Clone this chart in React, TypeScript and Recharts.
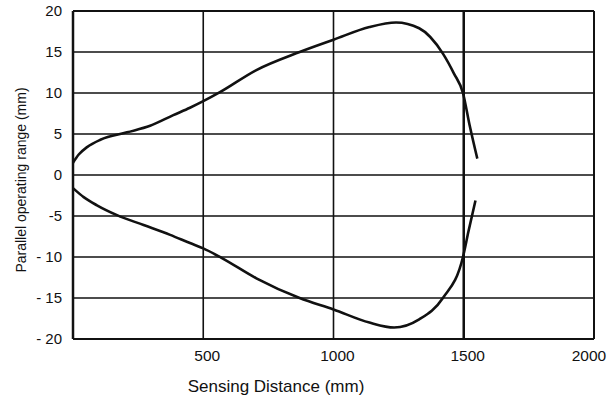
import { LineChart, Line, XAxis, YAxis, CartesianGrid, ReferenceLine, Label } from "recharts"

// sensing distance (mm) vs. parallel operating range (mm), upper and lower edges of the beam
const upperDist = [0, 22, 54, 105, 207, 296, 385, 449, 500, 564, 704, 870, 1000, 1138, 1240, 1329, 1420, 1462, 1497, 1523, 1552]
const upperRange = [1.5, 2.5, 3.4, 4.3, 5.2, 6.0, 7.3, 8.2, 9.0, 10.1, 12.8, 15.0, 16.5, 18.05, 18.6, 17.9, 14.8, 12.4, 10.0, 6.0, 2.0]

const lowerDist = [0, 41, 92, 169, 271, 373, 449, 500, 570, 704, 870, 1000, 1138, 1233, 1329, 1420, 1497, 1518, 1545]
const lowerRange = [-1.6, -2.7, -3.7, -4.9, -6.1, -7.3, -8.3, -8.95, -10.1, -12.6, -15.0, -16.4, -18.0, -18.6, -17.6, -15.0, -10.0, -6.9, -3.1]

const distTicks = [500, 1000, 1500, 2000]
const rangeTicks = [-20, -15, -10, -5, 0, 5, 10, 15, 20]

const FONT = "'Liberation Sans', Arial, Helvetica, sans-serif"
const INK = "#111"

const toPoints = (xs: number[], ys: number[]) => xs.map((x, i) => ({ x, y: ys[i] }))

const upper = toPoints(upperDist, upperRange)
const lower = toPoints(lowerDist, lowerRange)

// "- 10" style for the two-digit negatives
const formatRange = (v: number) => (v <= -10 ? `- ${-v}` : String(v))

function RangeTick({ x, y, payload }: any) {
  return (
    <text x={x} y={y} dy={5} textAnchor="end" fontFamily={FONT} fontSize={15} fill={INK}>
      {formatRange(payload.value)}
    </text>
  )
}

function DistTick({ x, y, payload }: any) {
  // last label pulled in so it stays inside the svg
  const dx = payload.value === 2000 ? -5 : 4
  return (
    <text x={x} y={y} dx={dx} dy={20} textAnchor="middle" fontFamily={FONT} fontSize={15.5} fill={INK}>
      {payload.value}
    </text>
  )
}

export default function App() {
  return (
    <div style={{ position: "absolute", left: 0, top: 0, background: "#fff" }}>
      <LineChart width={611} height={400} margin={{ top: 11, right: 17, left: 0, bottom: 0 }}>
        <CartesianGrid stroke={INK} strokeWidth={1.6} />
        <XAxis
          type="number"
          dataKey="x"
          domain={[0, 2000]}
          ticks={distTicks}
          height={61}
          tickSize={0}
          tickLine={false}
          axisLine={{ stroke: INK, strokeWidth: 2 }}
          tick={<DistTick />}
          allowDataOverflow
        >
          <Label
            content={() => (
              <text x={276} y={392} textAnchor="middle" fontFamily={FONT} fontSize={17} fill={INK}>
                Sensing Distance (mm)
              </text>
            )}
          />
        </XAxis>
        <YAxis
          type="number"
          dataKey="y"
          domain={[-20, 20]}
          ticks={rangeTicks}
          width={73}
          tickSize={0}
          tickMargin={11}
          tickLine={false}
          axisLine={{ stroke: INK, strokeWidth: 2.5 }}
          tick={<RangeTick />}
          allowDataOverflow
        >
          <Label
            content={() => (
              <text
                x={21}
                y={180}
                transform="rotate(-90 21 180)"
                textAnchor="middle"
                dominantBaseline="central"
                fontFamily={FONT}
                fontSize={14}
                fill={INK}
              >
                Parallel operating range (mm)
              </text>
            )}
          />
        </YAxis>
        <ReferenceLine x={1500} stroke={INK} strokeWidth={2.5} />
        <ReferenceLine x={2000} stroke={INK} strokeWidth={2} />
        <ReferenceLine y={20} stroke={INK} strokeWidth={2} />
        <Line
          data={upper}
          dataKey="y"
          type="monotone"
          stroke={INK}
          strokeWidth={2.6}
          dot={false}
          isAnimationActive={false}
        />
        <Line
          data={lower}
          dataKey="y"
          type="monotone"
          stroke={INK}
          strokeWidth={2.6}
          dot={false}
          isAnimationActive={false}
        />
      </LineChart>
    </div>
  )
}
